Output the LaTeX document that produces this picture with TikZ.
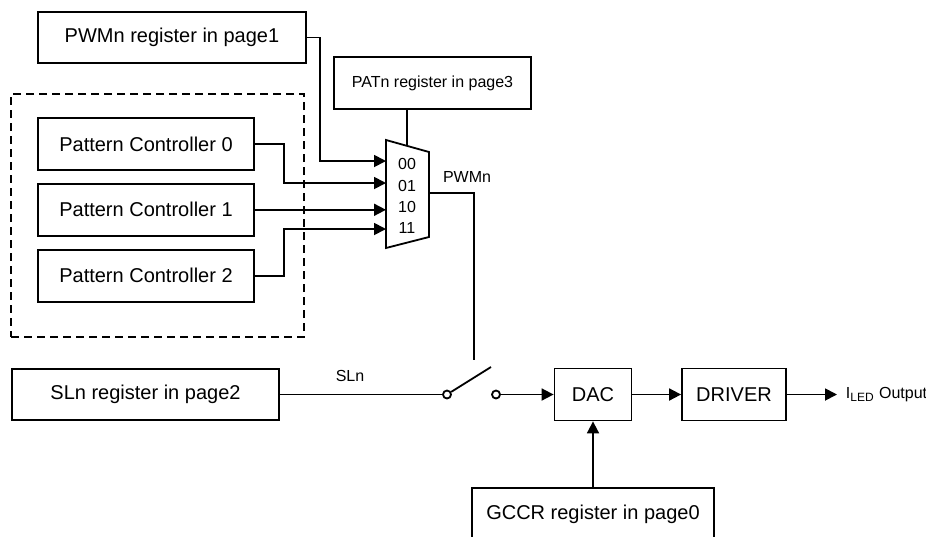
\documentclass[tikz,border=0pt]{standalone}
\usepackage{fontspec}
\setmainfont{Liberation Sans}
\usetikzlibrary{positioning,fit,arrows.meta}

\begin{document}
\begin{tikzpicture} [
		x=0.5pt, y=-0.5pt, line width=0.9pt,
		every node/.style={inner sep=1mm, font=\fontsize{10}{12}\selectfont, rectangle},
		reg/.style={draw=black, minimum height=25.5pt},
		ctrl/.style={draw=black, minimum width=108pt, minimum height=26pt},
		small/.style={font=\fontsize{8}{10}\selectfont},
		lbl/.style={small, inner sep=0pt},
		pin/.style={draw=black, circle, fill=white, inner sep=0pt, minimum size=4pt},
		sig/.style={-{Triangle[length=6pt,width=6pt]}}
	]
	\useasboundingbox (0,0) rectangle (926,536);

	\node (pwm) [reg, minimum width=134pt] at (172,37.5) {PWMn register in page1};
	\node (pat) [reg, small, minimum width=98.5pt, minimum height=26pt] at (432.5,83) {PATn register in page3};

	\node (pc0) [ctrl] at (146,144) {Pattern Controller 0};
	\node (pc1) [ctrl, below=6pt of pc0] {Pattern Controller 1};
	\node (pc2) [ctrl, below=6pt of pc1] {Pattern Controller 2};
	\node (grp) [draw=black, dashed, dash pattern=on 4pt off 2.5pt, line width=0.7pt,
		inner sep=0pt, fit={(11,94) (304,337)}] {};

	% mux
	\draw (386,140) -- (429,152) -- (429,237) -- (386,248) -- cycle;
	\coordinate (mux0) at (386,161);
	\coordinate (mux1) at (386,183);
	\coordinate (mux2) at (pc1.east -| mux0);
	\coordinate (mux3) at (386,229);
	\coordinate (sel) at (407,146);
	\coordinate (muxout) at (429,193);
	\node (s0) [lbl] at (407,164) {00};
	\node (s1) [lbl] at (407,185.5) {01};
	\node (s2) [lbl] at (407,207) {10};
	\node (s3) [lbl] at (407,228) {11};

	\draw [sig] (pwm.east) -- ++(13,0) |- (mux0);
	\draw [sig] (pc0.east) -- ++(29,0) |- (mux1);
	\draw [sig] (pc1.east) -- (mux2);
	\draw [sig] (pc2.east) -- ++(29,0) |- (mux3);
	\draw (sel) -- (sel |- pat.south);

	\coordinate (swtop) at (474,360);
	\draw (muxout) -| (swtop);
	\node (pwmlbl) [lbl] at (467,177) {PWMn};

	\node (sln) [reg, minimum width=133.5pt] at (145.5,394.5) {SLn register in page2};
	\node (sw1) [pin] at (447,394.5) {};
	\node (sw2) [pin] at (496,394.5) {};
	\coordinate (lever) at (491,367);
	\draw (sln.east) -- (sw1);
	\draw (sw1) -- (lever);
	\node (sllbl) [lbl] at (350,376) {SLn};

	\node (dac) [reg, minimum width=38.5pt, minimum height=26pt] at (593,394.5) {DAC};
	\node (drv) [reg, minimum width=52pt, minimum height=26pt] at (734,394.5) {DRIVER};
	\node (gccr) [reg, minimum width=121pt, minimum height=26pt] at (593,514) {GCCR register in page0};
	\coordinate (out) at (837,394.5);
	\node (iled) [lbl, anchor=west] at (845,394.5) {I\textsubscript{LED} Output};

	\draw [sig] (sw2) -- (dac);
	\draw [sig] (dac) -- (drv);
	\draw [sig] (drv) -- (out);
	\draw [sig] (gccr) -- (dac);

\end{tikzpicture}
\end{document}
